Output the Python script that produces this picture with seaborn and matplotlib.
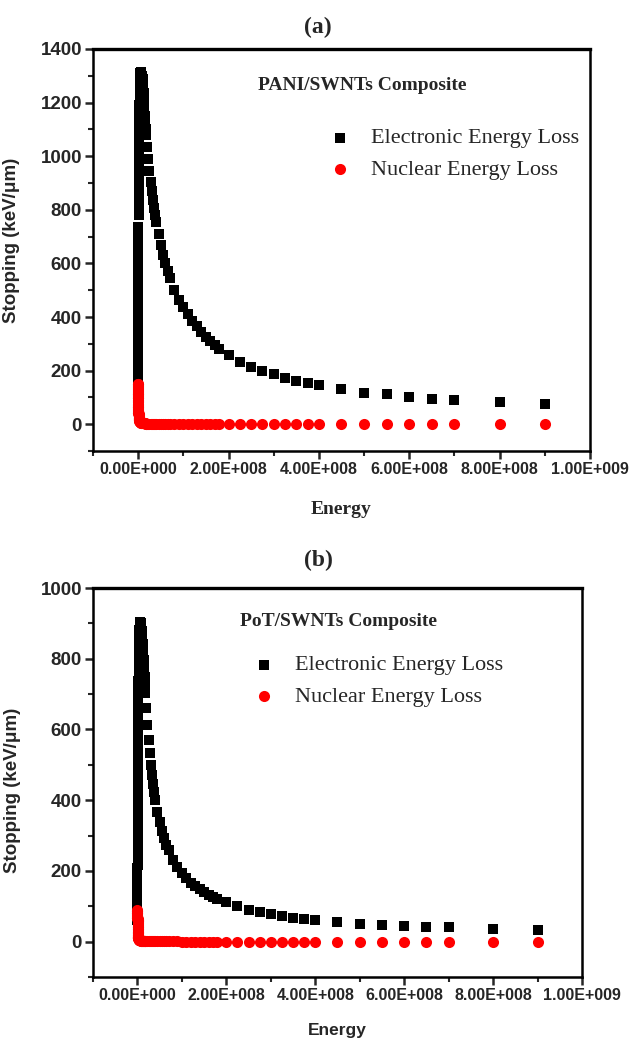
import numpy as np
import pandas as pd
import seaborn as sns
import matplotlib
import matplotlib.pyplot as plt
from matplotlib.ticker import MultipleLocator, FuncFormatter

# ion energy (eV), shared by both panels (SRIM-like grid)
energy = [1e4, 2e4, 3e4, 4e4, 5e4, 6e4, 7e4, 8e4, 9e4,
          1e5, 1.1e5, 1.2e5, 1.3e5, 1.4e5, 1.5e5, 1.6e5, 1.7e5, 1.8e5,
          2e5, 2.25e5, 2.5e5, 2.75e5, 3e5, 3.25e5, 3.5e5, 3.75e5, 4e5,
          4.5e5, 5e5, 5.5e5, 6e5, 6.5e5, 7e5, 8e5, 9e5,
          1e6, 1.1e6, 1.2e6, 1.3e6, 1.4e6, 1.5e6, 1.6e6, 1.7e6, 1.8e6,
          2e6, 2.25e6, 2.5e6, 2.75e6, 3e6, 3.25e6, 3.5e6, 3.75e6, 4e6,
          4.5e6, 5e6, 5.5e6, 6e6, 6.5e6, 7e6, 8e6, 9e6,
          1e7, 1.1e7, 1.2e7, 1.3e7, 1.4e7, 1.5e7, 1.6e7, 1.7e7, 1.8e7,
          2e7, 2.25e7, 2.5e7, 2.75e7, 3e7, 3.25e7, 3.5e7, 3.75e7, 4e7,
          4.5e7, 5e7, 5.5e7, 6e7, 6.5e7, 7e7, 8e7, 9e7,
          1e8, 1.1e8, 1.2e8, 1.3e8, 1.4e8, 1.5e8, 1.6e8, 1.7e8, 1.8e8,
          2e8, 2.25e8, 2.5e8, 2.75e8, 3e8, 3.25e8, 3.5e8, 3.75e8, 4e8,
          4.5e8, 5e8, 5.5e8, 6e8, 6.5e8, 7e8, 8e8, 9e8]

# (a) PANI/SWNTs  (keV/um)
elec_pani = [96, 134, 165, 192, 216, 238, 258, 277, 294,
             310, 322, 334, 346, 357, 368, 379, 389, 399,
             419, 442, 464, 485, 505, 524, 542, 559, 575,
             606, 636, 664, 690, 714, 737, 780, 819,
             855, 888, 918, 946, 972, 996, 1018, 1039, 1058,
             1093, 1130, 1163, 1192, 1218, 1240, 1259, 1275, 1288,
             1303, 1312, 1315, 1314, 1311, 1307, 1300, 1294,
             1288, 1262, 1234, 1206, 1178, 1150, 1124, 1100, 1078,
             1036, 988, 944, 905, 870, 838, 808, 780, 754,
             708, 668, 632, 600, 572, 545, 500, 462,
             436, 410, 387, 365, 345, 327, 311, 296, 282,
             257, 234, 215, 200, 188, 174, 163, 155, 146,
             132, 118, 111, 102, 96, 91, 82, 74]
nucl_pani = [150, 149, 147, 144, 140, 136, 132, 128, 124,
             120, 117, 114, 111, 108, 105, 102, 99.5, 97,
             92, 87, 82, 77, 73, 69.5, 66, 63, 60.5,
             56, 52, 48.5, 45.5, 43, 40.5, 36.5, 33,
             30.5, 28.2, 26.3, 24.6, 23.2, 21.9, 20.7, 19.7, 18.8,
             17.2, 15.6, 14.3, 13.2, 12.3, 11.5, 10.8, 10.2, 9.6,
             8.7, 7.9, 7.3, 6.7, 6.3, 5.9, 5.2, 4.7,
             4.3, 4.0, 3.7, 3.5, 3.3, 3.1, 2.9, 2.75, 2.6,
             2.35, 2.1, 1.9, 1.75, 1.6, 1.5, 1.4, 1.3, 1.22,
             1.1, 1.0, 0.92, 0.85, 0.79, 0.74, 0.66, 0.6,
             0.55, 0.5, 0.46, 0.43, 0.4, 0.37, 0.35, 0.33, 0.31,
             0.28, 0.25, 0.23, 0.21, 0.2, 0.18, 0.17, 0.16, 0.15,
             0.13, 0.12, 0.11, 0.1, 0.095, 0.09, 0.08, 0.07]

# (b) PoT/SWNTs  (keV/um)
elec_pot = [62, 86, 106, 123, 138, 151, 163, 174, 184,
            193, 201, 209, 217, 224, 231, 238, 245, 251,
            264, 279, 293, 306, 319, 331, 342, 353, 363,
            383, 402, 419, 436, 451, 466, 493, 518,
            541, 563, 583, 602, 620, 637, 653, 668, 682,
            708, 737, 763, 786, 806, 824, 840, 853, 864,
            881, 893, 900, 904, 904, 902, 896, 888,
            878, 862, 842, 820, 797, 773, 749, 726, 704,
            660, 612, 570, 533, 500, 471, 445, 422, 401,
            366, 337, 312, 292, 274, 258, 232, 210,
            193, 179, 167, 157, 148, 140, 133, 127, 121,
            111, 100, 90, 84, 79, 73, 68, 65, 62,
            56, 51, 47, 44, 42, 40, 36, 32]
nucl_pot = [88, 87, 86, 84, 82, 80, 77, 75, 72,
            70, 68, 66, 64, 62, 60.5, 59, 57.5, 56,
            53, 50, 47, 44.5, 42, 40, 38, 36.3, 34.7,
            32, 29.6, 27.6, 25.9, 24.4, 23, 20.7, 18.8,
            17.3, 16, 14.9, 14, 13.2, 12.4, 11.8, 11.2, 10.7,
            9.8, 8.9, 8.2, 7.6, 7.1, 6.6, 6.2, 5.9, 5.6,
            5.0, 4.6, 4.2, 3.9, 3.6, 3.4, 3.0, 2.7,
            2.45, 2.25, 2.1, 2.0, 1.9, 1.8, 1.7, 1.6, 1.5,
            1.35, 1.2, 1.1, 1.0, 0.93, 0.87, 0.82, 0.77, 0.72,
            0.65, 0.59, 0.54, 0.5, 0.47, 0.44, 0.39, 0.35,
            0.32, 0.3, 0.28, 0.26, 0.24, 0.22, 0.21, 0.2, 0.19,
            0.17, 0.15, 0.14, 0.13, 0.12, 0.11, 0.1, 0.1, 0.09,
            0.08, 0.07, 0.07, 0.06, 0.06, 0.05, 0.05, 0.04]

sns.set_style("ticks")
SANS = "Liberation Sans"
SERIF = "Liberation Serif"
plt.rcParams["font.family"] = [SANS, "DejaVu Sans"]
XTICK_SIZE, YTICK_SIZE = 11.5, 13.5


def sci_fmt(v, pos):
    if v == 0:
        return "0.00E+000"
    e = int(np.floor(np.log10(abs(v)) + 1e-9))
    return f"{v / 10**e:.2f}E+{e:03d}"


def draw_panel(ax, elec, nucl, ymax, composite, comp_xy, leg_xy, xlab_font):
    df = pd.DataFrame({"Energy": energy, "Electronic": elec, "Nuclear": nucl})
    sns.scatterplot(data=df, x="Energy", y="Electronic", marker="s", color="black",
                    s=54, linewidth=0, ax=ax, label="Electronic Energy Loss", legend=False)
    sns.scatterplot(data=df, x="Energy", y="Nuclear", marker="o", color="#ff0000",
                    s=64, linewidth=0, ax=ax, label="Nuclear Energy Loss", legend=False)
    ax.set_xlim(-1e8, 1e9)
    ax.set_ylim(-100, ymax)
    ax.xaxis.set_major_locator(MultipleLocator(2e8))
    ax.xaxis.set_minor_locator(MultipleLocator(1e8))
    ax.yaxis.set_major_locator(MultipleLocator(200))
    ax.yaxis.set_minor_locator(MultipleLocator(100))
    ax.xaxis.set_major_formatter(FuncFormatter(sci_fmt))
    ax.tick_params(which="major", direction="out", length=6, width=1.8, pad=2)
    ax.tick_params(which="minor", direction="out", length=3.5, width=1.5)
    for lab in ax.get_xticklabels():
        lab.set_fontweight("bold")
        lab.set_fontsize(XTICK_SIZE)
    for lab in ax.get_yticklabels():
        lab.set_fontweight("bold")
        lab.set_fontsize(YTICK_SIZE)
    for sp in ax.spines.values():
        sp.set_visible(True)
        sp.set_linewidth(1.8)
        sp.set_color("black")
    ax.spines["top"].set_linewidth(2.4)
    ax.set_ylabel("Stopping (keV/\u03bcm)", fontweight="bold", fontsize=13.5)
    ax.set_xlabel("Energy", fontweight="bold", fontsize=14 if xlab_font == SERIF else 12.5,
                  family=xlab_font)
    ax.text(comp_xy[0], comp_xy[1], composite, transform=ax.transAxes, family=SERIF,
            fontweight="bold", fontsize=14, va="center", ha="left")
    ax.legend(loc="center left", bbox_to_anchor=leg_xy, frameon=False,
              prop={"family": SERIF, "size": 16}, handlelength=1.0, handletextpad=0.9,
              borderpad=0, borderaxespad=0, labelspacing=0.5)


fig = plt.figure(figsize=(6.3, 10.4), dpi=100)
ax1 = fig.add_axes([0.1476, 0.5663, 0.7889, 0.3866])
ax2 = fig.add_axes([0.1476, 0.0606, 0.7762, 0.3740])

draw_panel(ax1, elec_pani, nucl_pani, 1400, "PANI/SWNTs Composite",
           (0.332, 0.908), (0.474, 0.739), SERIF)
draw_panel(ax2, elec_pot, nucl_pot, 1000, "PoT/SWNTs Composite",
           (0.301, 0.913), (0.326, 0.761), SANS)

ax1.yaxis.set_label_coords(-0.146, 0.525)
ax2.yaxis.set_label_coords(-0.148, 0.48)
ax1.xaxis.set_label_coords(0.5, -0.125)
ax2.xaxis.set_label_coords(0.5, -0.118)

fig.text(0.505, 0.974, "(a)", family=SERIF, fontweight="bold", fontsize=17,
         ha="center", va="center")
fig.text(0.505, 0.461, "(b)", family=SERIF, fontweight="bold", fontsize=17,
         ha="center", va="center")

fig.savefig("out.png", dpi=100)
